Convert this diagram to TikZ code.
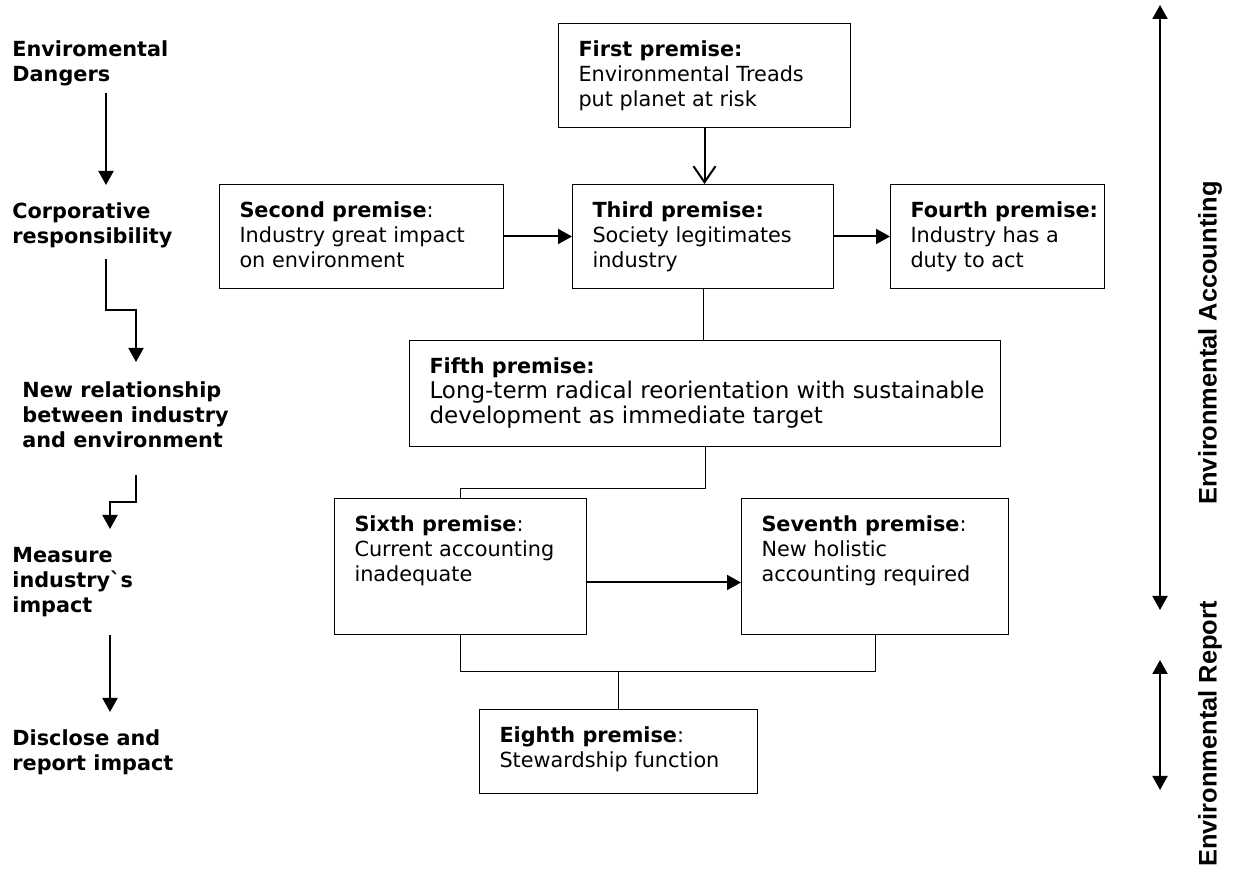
\documentclass[tikz,border=0pt]{standalone}
\usepackage{fontspec}
\setmainfont{DejaVu Sans}
\newfontfamily\sidefont{Liberation Sans}
\usetikzlibrary{arrows.meta,calc}
\newcommand{\diagfont}{\fontsize{10.4}{12.5}\selectfont}
\newcommand{\premtext}[3]{\parbox[c][#2][t]{#1}{\vspace*{8.8pt}\leftskip=10pt\relax\noindent #3}}
\tikzset{
    %Define standard arrow tip
    >={Triangle[length=7pt,width=7.5pt]},
    %Define style for premise boxes
    premise/.style={
           draw,
           line width=0.5pt,
           inner sep=0pt,
           anchor=north west},
    %Define style for stage labels
    stage/.style={
      font=\diagfont\bfseries,
      align=left,
      inner sep=0pt,
      anchor=north west
    },
    sidelabel/.style={
      rotate=90,
      inner sep=0pt,
      font=\sidefont\bfseries\fontsize{12.7}{15}\selectfont
    },
    % Define arrow styles
    pil/.style={
           ->,
           line width=1pt},
    link/.style={
           line width=0.5pt},
    span/.style={
           <->,
           line width=1pt}
}

\begin{document}
\begin{tikzpicture}[x=0.5pt, y=-0.5pt, font=\diagfont]
 \useasboundingbox (0,0) rectangle (1237,870);

 % stages
 \node [stage] (dangers) at (12,40) {Enviromental\\Dangers};
 \node [stage] (corp) at (12,202) {Corporative\\responsibility};
 \node [stage] (relation) at (22,381) {New relationship\\between industry\\and environment};
 \node [stage] (measure) at (12,547) {Measure\\industry\textasciigrave s\\impact};
 \node [stage] (disclose) at (12,729) {Disclose and\\report impact};

 \coordinate (s1) at (106,93);  \coordinate (e1) at (106,185);
 \coordinate (s2) at (106,259); \coordinate (e2) at (136,362);
 \coordinate (s3) at (136,475); \coordinate (e3) at (110,529);
 \coordinate (s4) at (110,635); \coordinate (e4) at (110,712);
 \draw [pil] (s1) -- (e1);
 \draw [pil] (s2) |- ($(s2)!.5!(e2)$) -| (e2);
 \draw [pil] (s3) |- ($(s3)!.5!(e3)$) -| (e3);
 \draw [pil] (s4) -- (e4);

 % premises
 \node [premise] (first) at (558,23)
   {\premtext{146pt}{52pt}{\textbf{First~premise:}\\Environmental Treads\\put planet at risk}};
 \node [premise] (second) at (219,184)
   {\premtext{142pt}{52pt}{\textbf{Second~premise}:\\Industry great impact\\on environment}};
 \node [premise] (third) at (572,184)
   {\premtext{130.5pt}{52pt}{\textbf{Third~premise:}\\Society legitimates\\industry}};
 \node [premise] (fourth) at (890,184)
   {\premtext{107pt}{52pt}{\textbf{Fourth~premise:}\\Industry has a\\duty to act}};
 \node [premise] (fifth) at (409,340)
   {\premtext{295.5pt}{53pt}{\textbf{Fifth~premise:}\\\fontsize{11.5}{12.5}\selectfont Long-term radical reorientation with sustainable\\development as immediate target}};
 \node [premise] (sixth) at (334,498)
   {\premtext{126pt}{68pt}{\textbf{Sixth~premise}:\\Current accounting\\inadequate}};
 \node [premise] (seventh) at (741,498)
   {\premtext{133.5pt}{68pt}{\textbf{Seventh~premise}:\\New holistic\\accounting required}};
 \node [premise] (eighth) at (479,709)
   {\premtext{139pt}{42pt}{\textbf{Eighth~premise}:\\Stewardship function}};

 % paths
 \draw [pil, -{Straight Barb[length=8pt,width=11pt]}] (first.south) -- (first.south |- third.north);
 \draw [pil] (second) -- (third);
 \draw [pil] (third) -- (fourth);
 \draw [link] (third.south) -- (third.south |- fifth.north);
 \draw [link] (fifth.south) -- ++(0,42) -| (sixth.north);
 \draw [pil] ([yshift=-8pt]sixth.east) -- ([yshift=-8pt]sixth.east -| seventh.west);
 \draw [link] (sixth.south) -- ++(0,37) -| (seventh.south);
 \draw [link] (eighth.north) -- ++(0,-37);

 % scope on the right
 \coordinate (acctop) at (1160,5);   \coordinate (accbot) at (1160,610);
 \coordinate (reptop) at (1160,660); \coordinate (repbot) at (1160,790);
 \draw [span] (acctop) -- (accbot);
 \draw [span] (reptop) -- (repbot);
 \node [sidelabel] (acclabel) at (1210,343) {Environmental Accounting};
 \node [sidelabel] (replabel) at (1210,734) {Environmental Report};
\end{tikzpicture}
\end{document}
